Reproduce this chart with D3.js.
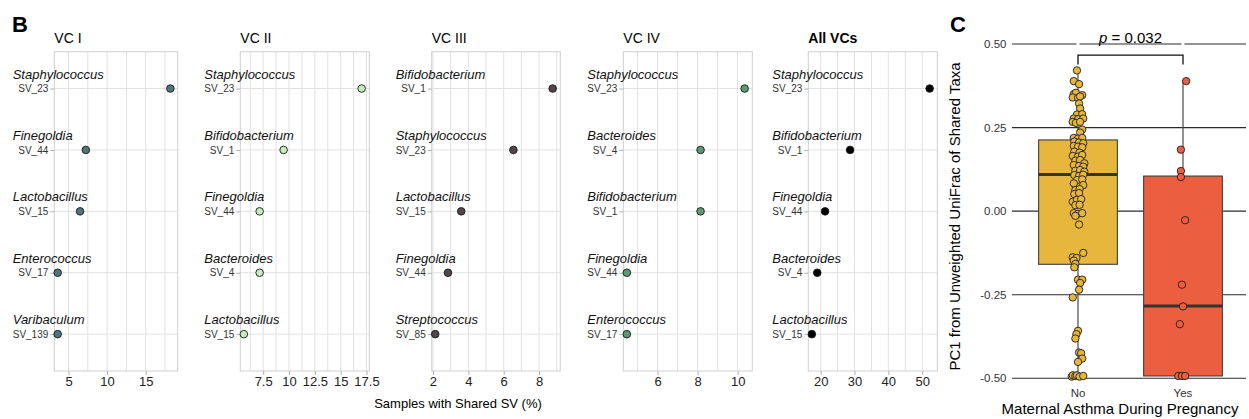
<!DOCTYPE html>
<html>
<head>
<meta charset="utf-8">
<script src="https://cdn.jsdelivr.net/npm/d3@7"></script>
<style>
  body { margin: 0; background: #fff; }
  svg { display: block; font-family: "Liberation Sans", Arial, sans-serif; }
</style>
</head>
<body>
<div class="chart"></div>
<script>
// ---- panel B data ----
const panelTitles = ["VC I", "VC II", "VC III", "VC IV", "All VCs"];
const genera = [
  ["Staphylococcus", "Finegoldia", "Lactobacillus", "Enterococcus", "Varibaculum"],
  ["Staphylococcus", "Bifidobacterium", "Finegoldia", "Bacteroides", "Lactobacillus"],
  ["Bifidobacterium", "Staphylococcus", "Lactobacillus", "Finegoldia", "Streptococcus"],
  ["Staphylococcus", "Bacteroides", "Bifidobacterium", "Finegoldia", "Enterococcus"],
  ["Staphylococcus", "Bifidobacterium", "Finegoldia", "Bacteroides", "Lactobacillus"]
];
const svIds = [
  ["SV_23", "SV_44", "SV_15", "SV_17", "SV_139"],
  ["SV_23", "SV_1", "SV_44", "SV_4", "SV_15"],
  ["SV_1", "SV_23", "SV_15", "SV_44", "SV_85"],
  ["SV_23", "SV_4", "SV_1", "SV_44", "SV_17"],
  ["SV_23", "SV_1", "SV_44", "SV_4", "SV_15"]
];
const sharedPct = [
  [18.2, 7.25, 6.5, 3.6, 3.6],
  [17.03, 9.48, 7.16, 7.16, 5.63],
  [8.77, 6.55, 3.6, 2.85, 2.13],
  [10.35, 8.15, 8.15, 4.47, 4.47],
  [52.2, 28.7, 21.3, 19.0, 17.4]
];
const xTicks = [[5, 10, 15], [7.5, 10, 12.5, 15, 17.5], [2, 4, 6, 8], [6, 8, 10], [20, 30, 40, 50]];
const panelColors = ["#50757a", "#c6ecbd", "#514647", "#5b9b73", "#000000"];

// ---- panel C data ----
const asthmaGroups = ["No", "Yes"];
const boxLow = [-0.495, -0.493];
const boxQ1 = [-0.159, -0.493];
const boxMedian = [0.11, -0.284];
const boxQ3 = [0.213, 0.105];
const boxHigh = [0.421, 0.389];
const noPC1 = [
  0.421, 0.389, 0.380, 0.350, 0.354, 0.347, 0.340, 0.339, 0.343, 0.322, 0.307, 0.289,
  0.290, 0.277, 0.275, 0.277, 0.267, 0.264, 0.267, 0.244, 0.235, 0.219, 0.217, 0.219,
  0.208, 0.205, 0.203, 0.195, 0.193, 0.191, 0.178, 0.175, 0.165, 0.163, 0.168, 0.151,
  0.153, 0.143, 0.138, 0.135, 0.133, 0.121, 0.123, 0.118, 0.108, 0.105, 0.109, 0.093,
  0.095, 0.083, 0.078, 0.063, 0.066, 0.051, 0.054, 0.028, 0.034, 0.036, 0.018, 0.019,
  -0.006, -0.008, -0.006, -0.014, -0.040, -0.125, -0.138, -0.140, -0.148, -0.158, -0.168,
  -0.205, -0.205, -0.215, -0.235, -0.258, -0.358, -0.368, -0.381, -0.423, -0.425, -0.441,
  -0.451, -0.495, -0.491, -0.493, -0.491, -0.495, -0.493
];
const noJitter = [
  -0.01, -0.04, 0.01, -0.04, -0.02, 0.04, -0.05, 0.00, 0.02, 0.01, 0.02, -0.01,
  0.04, -0.04, 0.00, 0.05, -0.05, -0.02, 0.02, 0.04, 0.02, -0.04, 0.00, 0.04,
  -0.035, 0.01, 0.05, -0.04, 0.00, 0.04, -0.035, 0.015, -0.05, 0.00, 0.04, -0.025,
  0.02, 0.06, -0.04, 0.01, 0.05, -0.025, 0.02, 0.06, -0.035, 0.01, 0.05, -0.01,
  0.04, -0.04, 0.05, -0.025, 0.015, -0.035, 0.01, -0.05, -0.01, 0.03, -0.025, 0.015,
  -0.04, 0.00, 0.04, -0.025, 0.01, 0.05, -0.05, -0.015, -0.04, -0.025, -0.035,
  0.00, 0.04, 0.02, 0.01, -0.05, 0.00, -0.015, -0.025, 0.01, 0.03, 0.04,
  0.00, -0.06, -0.05, -0.025, -0.01, 0.015, 0.05
];
const yesPC1 = [0.389, 0.184, 0.120, 0.102, -0.027, -0.220, -0.285, -0.338, -0.493, -0.493, -0.493];
const yesJitter = [0.03, -0.02, -0.02, -0.02, 0.02, -0.01, 0.00, -0.03, -0.045, -0.01, 0.02];
const groupColors = ["#e6b63d", "#eb5f40"];
const cTicks = [-0.5, -0.25, 0, 0.25, 0.5];
const pLabel = "0.032";

// ---- layout ----
const width = 1249;
const height = 419;
const panelLeft = [54.3, 240.3, 431.7, 623.3, 808.3];
const panelRight = [177.7, 369.3, 560.3, 752.3, 937.3];
const plotTop = 51.7;
const plotBottom = 371;
const padLo = 0.03, padHi = 0.065;

const svg = d3.select(".chart")
  .append("svg")
  .attr("width", width)
  .attr("height", height);

svg.append("text")
  .attr("x", 12).attr("y", 31.5)
  .attr("font-size", 22).attr("font-weight", "bold")
  .text("B");

panelTitles.forEach((title, p) => {
  const [lo, hi] = d3.extent(sharedPct[p]);
  const span = hi - lo;
  const x = d3.scaleLinear()
    .domain([lo - padLo * span, hi + padHi * span])
    .range([panelLeft[p], panelRight[p]]);
  const y = d3.scalePoint()
    .domain(svIds[p])
    .range([plotTop, plotBottom])
    .padding(0.6);

  const g = svg.append("g");

  // major + minor vertical grid
  const major = xTicks[p];
  const step = major[1] - major[0];
  const [d0, d1] = x.domain();
  const gridVals = d3.range(major[0] - step, major[major.length - 1] + step * 1.01, step / 2)
    .filter(v => v >= d0 && v <= d1);
  g.append("g")
    .selectAll("line")
    .data(gridVals)
    .join("line")
    .attr("x1", d => x(d)).attr("x2", d => x(d))
    .attr("y1", plotTop).attr("y2", plotBottom)
    .attr("stroke", "#e2e2e2").attr("stroke-width", 1);

  g.append("g")
    .selectAll("line")
    .data(svIds[p])
    .join("line")
    .attr("x1", panelLeft[p]).attr("x2", panelRight[p])
    .attr("y1", d => y(d)).attr("y2", d => y(d))
    .attr("stroke", "#e2e2e2").attr("stroke-width", 1);

  g.append("rect")
    .attr("x", panelLeft[p]).attr("y", plotTop)
    .attr("width", panelRight[p] - panelLeft[p])
    .attr("height", plotBottom - plotTop)
    .attr("fill", "none").attr("stroke", "#cfcfcf").attr("stroke-width", 1);

  // y axis (SV ids)
  const yAxis = g.append("g")
    .attr("transform", `translate(${panelLeft[p]},0)`)
    .call(d3.axisLeft(y).tickSize(4).tickPadding(2));
  yAxis.select(".domain").remove();
  yAxis.selectAll(".tick line").attr("stroke", "#b0b0b0");
  yAxis.selectAll(".tick text").attr("font-size", 10).attr("fill", "#333")
    .attr("font-family", "Liberation Sans, Arial, sans-serif");

  // x axis
  const xAxis = g.append("g")
    .attr("transform", `translate(0,${plotBottom})`)
    .call(d3.axisBottom(x).tickValues(major).tickSize(4).tickPadding(2).tickFormat(d => String(d)));
  xAxis.select(".domain").remove();
  xAxis.selectAll(".tick line").attr("stroke", "#b0b0b0");
  xAxis.selectAll(".tick text").attr("font-size", 13).attr("fill", "#222")
    .attr("font-family", "Liberation Sans, Arial, sans-serif");

  // genus labels, left-aligned with the SV tick labels
  const labelLeft = yAxis.node().getBBox().x + panelLeft[p];
  g.append("g")
    .selectAll("text")
    .data(svIds[p])
    .join("text")
    .attr("x", labelLeft)
    .attr("y", d => y(d) - 10)
    .attr("font-size", 13).attr("font-style", "italic").attr("fill", "#111")
    .text((d, i) => genera[p][i]);

  g.append("g")
    .selectAll("circle")
    .data(sharedPct[p])
    .join("circle")
    .attr("cx", d => x(d))
    .attr("cy", (d, i) => y(svIds[p][i]))
    .attr("r", 3.8)
    .attr("fill", panelColors[p])
    .attr("stroke", "#1a1a1a").attr("stroke-width", 0.9);

  g.append("text")
    .attr("x", panelLeft[p]).attr("y", 42.7)
    .attr("font-size", 14)
    .attr("font-weight", p === 4 ? "bold" : "normal")
    .text(title);
});

svg.append("text")
  .attr("x", 458).attr("y", 407.5)
  .attr("text-anchor", "middle").attr("font-size", 13)
  .text("Samples with Shared SV (%)");

// ---- panel C ----
svg.append("text")
  .attr("x", 950).attr("y", 31.5)
  .attr("font-size", 22).attr("font-weight", "bold")
  .text("C");

const cLeft = 1012, cRight = 1246;
const cy = d3.scaleLinear().domain([-0.5, 0.5]).range([378.3, 44]);
const cx = d3.scalePoint().domain(asthmaGroups).range([1015, 1246]).padding(0.6);
const bw = cx.step() * 0.75;

const gc = svg.append("g");

gc.append("g")
  .selectAll("line")
  .data(cTicks)
  .join("line")
  .attr("x1", cLeft).attr("x2", cRight)
  .attr("y1", d => cy(d)).attr("y2", d => cy(d))
  .attr("stroke", "#2b2b2b").attr("stroke-width", 1.1);

gc.append("g")
  .selectAll("text")
  .data(cTicks)
  .join("text")
  .attr("x", 1006.5)
  .attr("y", d => cy(d))
  .attr("dy", "0.35em")
  .attr("text-anchor", "end")
  .attr("font-size", 11.5).attr("fill", "#333")
  .text(d => d.toFixed(2));

// whiskers, boxes, medians
asthmaGroups.forEach((grp, i) => {
  gc.append("line")
    .attr("x1", cx(grp)).attr("x2", cx(grp))
    .attr("y1", cy(boxHigh[i])).attr("y2", cy(boxLow[i]))
    .attr("stroke", "#4a4a4a").attr("stroke-width", 1.2);
  gc.append("rect")
    .attr("x", cx(grp) - bw / 2).attr("width", bw)
    .attr("y", cy(boxQ3[i])).attr("height", cy(boxQ1[i]) - cy(boxQ3[i]))
    .attr("fill", groupColors[i])
    .attr("stroke", "#3f3f3f").attr("stroke-width", 1.1);
  gc.append("line")
    .attr("x1", cx(grp) - bw / 2).attr("x2", cx(grp) + bw / 2)
    .attr("y1", cy(boxMedian[i])).attr("y2", cy(boxMedian[i]))
    .attr("stroke", "#333").attr("stroke-width", 3);
});

const pointSets = [
  noPC1.map((v, i) => ({grp: "No", v, j: noJitter[i], c: groupColors[0]})),
  yesPC1.map((v, i) => ({grp: "Yes", v, j: yesJitter[i], c: groupColors[1]}))
].flat();

gc.append("g")
  .selectAll("circle")
  .data(pointSets)
  .join("circle")
  .attr("cx", d => cx(d.grp) + d.j * cx.step())
  .attr("cy", d => cy(d.v))
  .attr("r", 3.7)
  .attr("fill", d => d.c)
  .attr("stroke", "#1f1f1f").attr("stroke-width", 0.9);

// significance bracket
const bracketY = 0.467, bracketTip = 0.439;
gc.append("path")
  .attr("d", `M${cx("No")},${cy(bracketTip)}V${cy(bracketY)}H${cx("Yes")}V${cy(bracketTip)}`)
  .attr("fill", "none").attr("stroke", "#111").attr("stroke-width", 1.3);

// small breaks in the top grid line above the bracket legs
gc.append("g")
  .selectAll("rect")
  .data(asthmaGroups)
  .join("rect")
  .attr("x", d => cx(d) - 1.5).attr("width", 3)
  .attr("y", cy(0.5) - 2).attr("height", 4)
  .attr("fill", "#fff");

const pText = gc.append("text")
  .attr("x", (cx("No") + cx("Yes")) / 2).attr("y", 42.5)
  .attr("text-anchor", "middle").attr("font-size", 15);
pText.append("tspan").attr("font-style", "italic").text("p");
pText.append("tspan").text(" = " + pLabel);

gc.selectAll("text.xlab")
  .data(asthmaGroups)
  .join("text")
  .attr("class", "xlab")
  .attr("x", d => cx(d)).attr("y", 396.5)
  .attr("text-anchor", "middle").attr("font-size", 11.5).attr("fill", "#333")
  .text(d => d);

svg.append("text")
  .attr("x", 1120).attr("y", 413.5)
  .attr("text-anchor", "middle").attr("font-size", 15)
  .text("Maternal Asthma During Pregnancy");

svg.append("text")
  .attr("transform", "translate(959.5,216.5) rotate(-90)")
  .attr("text-anchor", "middle").attr("font-size", 15)
  .text("PC1 from Unweighted UniFrac of Shared Taxa");
</script>
</body>
</html>
